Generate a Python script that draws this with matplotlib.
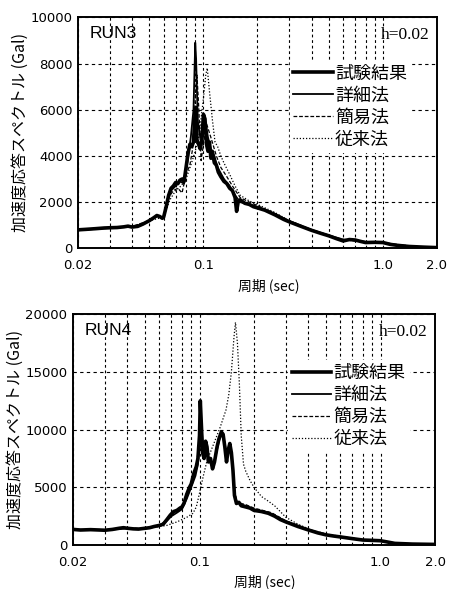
import numpy as np
import matplotlib
matplotlib.use("Agg")
import matplotlib.pyplot as plt
from matplotlib.ticker import FixedLocator, LogLocator, NullFormatter

plt.rcParams['font.family'] = ['DejaVu Sans', 'Noto Sans CJK JP']

# ---- data (period sec, acceleration Gal) ----
labels = ["試験結果", "詳細法", "簡易法", "従来法"]
xticks = [0.02, 0.1, 1.0, 2.0]
xticklabels = ["0.02", "0.1", "1.0", "2.0"]

# RUN3
run3_test_T = [0.020, 0.022, 0.025, 0.028, 0.030, 0.033, 0.036, 0.038, 0.040, 0.043,
               0.046, 0.050, 0.053, 0.055, 0.057, 0.059, 0.060, 0.062, 0.064, 0.066,
               0.068, 0.070, 0.072, 0.074, 0.076, 0.078, 0.080, 0.082, 0.084, 0.086,
               0.088, 0.090, 0.091, 0.092, 0.094, 0.096, 0.098, 0.100, 0.102, 0.104,
               0.106, 0.108, 0.110, 0.112, 0.115, 0.118, 0.121, 0.125, 0.130, 0.135,
               0.140, 0.145, 0.150, 0.153, 0.156, 0.160, 0.170, 0.180, 0.190, 0.200,
               0.220, 0.250, 0.280, 0.300, 0.350, 0.400, 0.450, 0.500, 0.550, 0.600,
               0.650, 0.700, 0.750, 0.800, 0.900, 1.000, 1.100, 1.200, 1.400, 1.700, 2.000]
run3_test_A = [800, 820, 850, 880, 890, 900, 930, 960, 920, 950,
               1050, 1200, 1330, 1420, 1380, 1300, 1350, 1800, 2300, 2600,
               2700, 2850, 2800, 2950, 3000, 2900, 3500, 4100, 4500, 4400,
               4600, 5900, 6100, 4700, 4500, 4300, 4700, 5800, 5600, 4500,
               4200, 4600, 3900, 4200, 3700, 3600, 3300, 3100, 2900, 2800,
               2600, 2500, 2200, 1600, 2000, 2100, 1950, 1900, 1800, 1750,
               1650, 1450, 1250, 1150, 950, 780, 650, 540, 420, 320,
               380, 360, 300, 250, 260, 250, 170, 130, 80, 50, 30]

run3_det_T = [0.020, 0.025, 0.030, 0.035, 0.040, 0.045, 0.050, 0.055, 0.058, 0.060,
              0.063, 0.066, 0.070, 0.074, 0.078, 0.082, 0.085, 0.088, 0.090, 0.091,
              0.093, 0.096, 0.100, 0.103, 0.106, 0.110, 0.115, 0.120, 0.130, 0.140,
              0.150, 0.160, 0.180, 0.200, 0.250, 0.300, 0.400, 0.500, 0.600, 0.700,
              0.800, 1.000, 1.200, 1.500, 2.000]
run3_det_A = [780, 840, 880, 920, 940, 1000, 1180, 1400, 1350, 1300,
              2000, 2500, 2700, 2900, 2800, 3900, 4800, 6000, 8900, 8200,
              5500, 4800, 5200, 5400, 4800, 4300, 4000, 3500, 3000, 2700,
              2300, 2000, 1900, 1800, 1500, 1180, 800, 560, 380, 350,
              280, 240, 140, 70, 35]

run3_simp_T = [0.020, 0.030, 0.040, 0.050, 0.055, 0.060, 0.064, 0.068, 0.072, 0.076,
               0.080, 0.084, 0.087, 0.090, 0.092, 0.094, 0.097, 0.100, 0.104, 0.108,
               0.112, 0.118, 0.125, 0.135, 0.145, 0.160, 0.180, 0.200, 0.250, 0.300,
               0.400, 0.500, 0.600, 0.800, 1.000, 1.500, 2.000]
run3_simp_A = [790, 890, 950, 1200, 1380, 1320, 2200, 2500, 2600, 2400,
               3200, 3600, 4300, 6500, 7500, 6200, 3800, 4500, 5400, 5000,
               4600, 4000, 3500, 3100, 2700, 2200, 2000, 1850, 1500, 1200,
               800, 560, 370, 270, 240, 70, 35]

run3_conv_T = [0.020, 0.030, 0.040, 0.050, 0.060, 0.065, 0.070, 0.075, 0.080, 0.085,
               0.090, 0.095, 0.100, 0.103, 0.105, 0.108, 0.112, 0.116, 0.120, 0.125,
               0.130, 0.140, 0.150, 0.160, 0.180, 0.200, 0.250, 0.300, 0.400, 0.500,
               0.600, 0.800, 1.000, 1.500, 2.000]
run3_conv_A = [800, 890, 940, 1200, 1350, 2100, 2500, 2700, 3000, 3600,
               4200, 5000, 6500, 7500, 7800, 6800, 5600, 4600, 4400, 4000,
               3700, 3200, 2700, 2300, 2050, 1900, 1550, 1200, 820, 570,
               390, 280, 250, 75, 40]

# RUN4
run4_test_T = [0.020, 0.022, 0.025, 0.028, 0.030, 0.033, 0.036, 0.038, 0.040, 0.043,
               0.046, 0.050, 0.053, 0.056, 0.060, 0.063, 0.066, 0.069, 0.072, 0.075,
               0.078, 0.080, 0.082, 0.085, 0.088, 0.090, 0.093, 0.096, 0.098, 0.100,
               0.101, 0.102, 0.104, 0.106, 0.108, 0.110, 0.112, 0.115, 0.118, 0.121,
               0.125, 0.128, 0.132, 0.135, 0.138, 0.141, 0.144, 0.147, 0.150, 0.153,
               0.156, 0.160, 0.165, 0.170, 0.180, 0.190, 0.200, 0.220, 0.240, 0.260,
               0.280, 0.300, 0.350, 0.400, 0.450, 0.500, 0.550, 0.600, 0.700, 0.800,
               0.900, 1.000, 1.100, 1.200, 1.500, 2.000]
run4_test_A = [1350, 1300, 1330, 1300, 1280, 1350, 1450, 1500, 1450, 1400,
               1380, 1450, 1500, 1600, 1700, 1800, 2200, 2600, 2900, 3000,
               3200, 3300, 3600, 4400, 5000, 5300, 6200, 6800, 7500, 9500,
               12500, 11000, 8000, 7500, 9000, 8500, 7200, 7500, 6600, 7200,
               8500, 9200, 9800, 9600, 8500, 7200, 8200, 8800, 8000, 6500,
               4300, 3600, 3700, 3400, 3300, 3200, 3000, 2900, 2750, 2500,
               2200, 2000, 1600, 1300, 1050, 880, 780, 700, 550, 430,
               400, 370, 250, 140, 80, 50]

run4_det_T = [0.020, 0.025, 0.030, 0.035, 0.040, 0.045, 0.050, 0.055, 0.060, 0.065,
              0.070, 0.075, 0.080, 0.085, 0.090, 0.095, 0.098, 0.100, 0.101, 0.103,
              0.105, 0.108, 0.112, 0.118, 0.122, 0.128, 0.133, 0.138, 0.142, 0.147,
              0.152, 0.156, 0.160, 0.170, 0.180, 0.200, 0.250, 0.300, 0.400, 0.500,
              0.600, 0.800, 1.000, 1.200, 1.500, 2.000]
run4_det_A = [1300, 1300, 1300, 1380, 1450, 1380, 1420, 1550, 1650, 2000,
              2500, 2800, 3100, 4000, 5000, 6000, 7000, 9000, 12000, 10000,
              7800, 8700, 7500, 6800, 7500, 9000, 9700, 8800, 7500, 8600,
              7000, 4500, 3800, 3500, 3400, 3100, 2700, 2050, 1350, 900,
              700, 440, 380, 150, 80, 50]

run4_simp_T = [0.020, 0.030, 0.040, 0.050, 0.060, 0.065, 0.070, 0.075, 0.080, 0.085,
               0.090, 0.095, 0.099, 0.101, 0.103, 0.106, 0.109, 0.113, 0.118, 0.124,
               0.130, 0.135, 0.140, 0.146, 0.151, 0.155, 0.160, 0.170, 0.180, 0.200,
               0.250, 0.300, 0.400, 0.500, 0.600, 0.800, 1.000, 1.200, 1.500, 2.000]
run4_simp_A = [1350, 1300, 1480, 1420, 1680, 2100, 2700, 3000, 3400, 4200,
               5200, 6500, 8500, 11000, 9500, 7600, 8800, 7300, 6900, 8200,
               9500, 9400, 7800, 8500, 7500, 5000, 3800, 3600, 3500, 3200,
               2800, 2100, 1350, 900, 720, 450, 380, 150, 80, 50]

run4_conv_T = [0.020, 0.030, 0.040, 0.050, 0.060, 0.066, 0.075, 0.085, 0.092, 0.096,
               0.100, 0.105, 0.110, 0.120, 0.130, 0.140, 0.145, 0.150, 0.155, 0.158,
               0.162, 0.166, 0.170, 0.175, 0.180, 0.190, 0.200, 0.220, 0.240, 0.260,
               0.300, 0.350, 0.400, 0.500, 0.600, 0.800, 1.000, 1.200, 1.500, 2.000]
run4_conv_A = [1300, 1300, 1450, 1400, 1600, 1700, 2000, 2400, 2750, 3300,
               4500, 6000, 7300, 8800, 10200, 11700, 13000, 15000, 18000, 19300,
               17500, 14000, 9500, 7000, 6400, 5600, 5000, 4200, 3800, 3400,
               2400, 1800, 1400, 950, 750, 460, 390, 160, 85, 55]


def style_axes(ax, ymax, ystep):
    '''log x axis, dashed grid, tick labels'''
    ax.set_xscale('log')
    ax.set_xlim(0.02, 2.0)
    ax.set_ylim(0, ymax)
    ax.xaxis.set_major_locator(FixedLocator(xticks))
    ax.set_xticklabels(xticklabels)
    ax.xaxis.set_minor_locator(LogLocator(base=10, subs=np.arange(2, 10)))
    ax.xaxis.set_minor_formatter(NullFormatter())
    ax.set_yticks(np.arange(0, ymax + 1, ystep))
    ax.tick_params(axis='both', which='both', length=0, labelsize=9.5)
    ax.tick_params(axis='x', pad=8)
    ax.tick_params(axis='y', pad=4)
    ax.grid(True, axis='x', which='both', color='black', lw=0.8, ls=(0, (2.5, 2.5)))
    ax.grid(True, axis='y', which='major', color='black', lw=0.8, ls=(0, (3, 3)))
    for s in ax.spines.values():
        s.set_linewidth(1.4)
    ax.set_ylabel("加速度応答スペクトル (Gal)", fontsize=11.5,
                  family=['Noto Sans CJK JP', 'DejaVu Sans'], labelpad=1)
    ax.set_xlabel("周期 (sec)", fontsize=10, family=['Noto Sans CJK JP', 'DejaVu Sans'],
                  labelpad=4, x=0.53)


def draw_panel(ax, series, title, legend_xy, ymax, ystep):
    '''draw four curves and legend'''
    (tT, tA), (dT, dA), (sT, sA), (cT, cA) = series
    h4, = ax.plot(cT, cA, color='black', lw=0.9, ls=(0, (1, 1.5)))
    h3, = ax.plot(sT, sA, color='black', lw=0.9, ls=(0, (3, 1.5)))
    h2, = ax.plot(dT, dA, color='black', lw=1.3)
    h1, = ax.plot(tT, tA, color='black', lw=2.6)
    style_axes(ax, ymax, ystep)
    ax.legend([h1, h2, h3, h4], labels, loc='upper left', bbox_to_anchor=legend_xy,
              prop={'family': ['Noto Sans CJK JP'], 'size': 13},
              frameon=True, fancybox=False, framealpha=1, edgecolor='white',
              handlelength=2.2, handletextpad=0.1, labelspacing=0.22,
              borderpad=0.2, borderaxespad=0)
    ax.text(0.033, 0.93, title, transform=ax.transAxes, fontsize=12.5,
            family='Liberation Sans', va='center', ha='left')
    ax.text(0.98, 0.925, "h=0.02", transform=ax.transAxes, fontsize=12.5,
            family='Liberation Serif', va='center', ha='right')


fig = plt.figure(figsize=(4.5, 5.89), dpi=100)
ax1 = fig.add_axes([0.1733, 0.5784, 0.7978, 0.3922])
ax2 = fig.add_axes([0.1622, 0.0747, 0.8045, 0.3917])

draw_panel(ax1, [(run3_test_T, run3_test_A), (run3_det_T, run3_det_A),
                 (run3_simp_T, run3_simp_A), (run3_conv_T, run3_conv_A)],
           "RUN3", (0.59, 0.81), 10000, 2000)
draw_panel(ax2, [(run4_test_T, run4_test_A), (run4_det_T, run4_det_A),
                 (run4_simp_T, run4_simp_A), (run4_conv_T, run4_conv_A)],
           "RUN4", (0.594, 0.80), 20000, 5000)

fig.savefig("out.png", dpi=100)
